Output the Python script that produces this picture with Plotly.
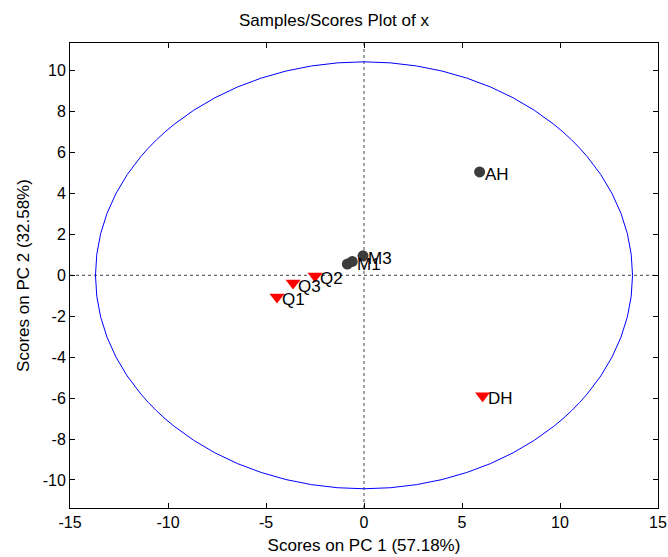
import plotly.graph_objects as go

# Samples (scores)
circle_names = ["", "M1", "M3", "AH"]
circle_pc1 = [-0.85, -0.6, -0.05, 5.9]
circle_pc2 = [0.55, 0.68, 0.95, 5.05]

tri_names = ["Q1", "Q3", "Q2", "DH"]
tri_pc1 = [-4.44, -3.62, -2.5, 6.05]
tri_pc2 = [-1.06, -0.38, -0.03, -5.89]

# confidence ellipse semi-axes
ell_a = 13.7
ell_b = 10.43

x_ticks = [-15, -10, -5, 0, 5, 10, 15]
y_ticks = [-10, -8, -6, -4, -2, 0, 2, 4, 6, 8, 10]

FONT = "Liberation Sans, Arial, sans-serif"

fig = go.Figure()
fig.add_trace(go.Scatter(x=circle_pc1, y=circle_pc2, mode="markers",
                         marker=dict(symbol="circle", size=11, color="#3c3c3c"),
                         showlegend=False))
fig.add_trace(go.Scatter(x=tri_pc1, y=tri_pc2, mode="markers",
                         marker=dict(symbol="triangle-down", size=13, color="#ff0000"),
                         showlegend=False))

annotations = []
for xs, ys, ns in [(circle_pc1, circle_pc2, circle_names), (tri_pc1, tri_pc2, tri_names)]:
    for x, y, n in zip(xs, ys, ns):
        if n:
            annotations.append(dict(x=x, y=y, text=n, showarrow=False, xanchor="left",
                                    yanchor="middle", xshift=3, yshift=-3,
                                    font=dict(family=FONT, size=17, color="black")))

shapes = [
    dict(type="circle", xref="x", yref="y", x0=-ell_a, x1=ell_a, y0=-ell_b, y1=ell_b,
         line=dict(color="#0000ff", width=1), layer="below"),
    dict(type="line", xref="x", yref="paper", x0=0, x1=0, y0=0, y1=1,
         line=dict(color="#444444", width=1, dash="dot"), layer="below"),
    dict(type="line", xref="paper", yref="y", x0=0, x1=1, y0=0, y1=0,
         line=dict(color="#444444", width=1, dash="dot"), layer="below"),
]

axis_common = dict(showgrid=False, zeroline=False, showline=True, linecolor="black",
                   linewidth=1, mirror="ticks", ticks="inside", ticklen=5, automargin=False,
                   tickcolor="black", tickfont=dict(family=FONT, size=16, color="black"))

fig.update_layout(
    width=668, height=557,
    margin=dict(l=70, r=10, t=43, b=49),
    paper_bgcolor="white", plot_bgcolor="white",
    title=dict(text="Samples/Scores Plot of x", x=0.5, xanchor="center", y=0.964, yanchor="middle",
               font=dict(family=FONT, size=17, color="black")),
    xaxis=dict(range=[-15, 15], tickvals=x_ticks, ticktext=[str(v) for v in x_ticks],
               title=dict(text="Scores on PC 1 (57.18%)", standoff=8,
                          font=dict(family=FONT, size=17, color="black")),
               **axis_common),
    yaxis=dict(range=[-11.37, 11.35], tickvals=y_ticks, ticktext=[str(v) for v in y_ticks],
               title=dict(text="Scores on PC 2 (32.58%)", standoff=8,
                          font=dict(family=FONT, size=17, color="black")),
               **axis_common),
    shapes=shapes,
    annotations=annotations,
)

fig.write_html("out.html")
